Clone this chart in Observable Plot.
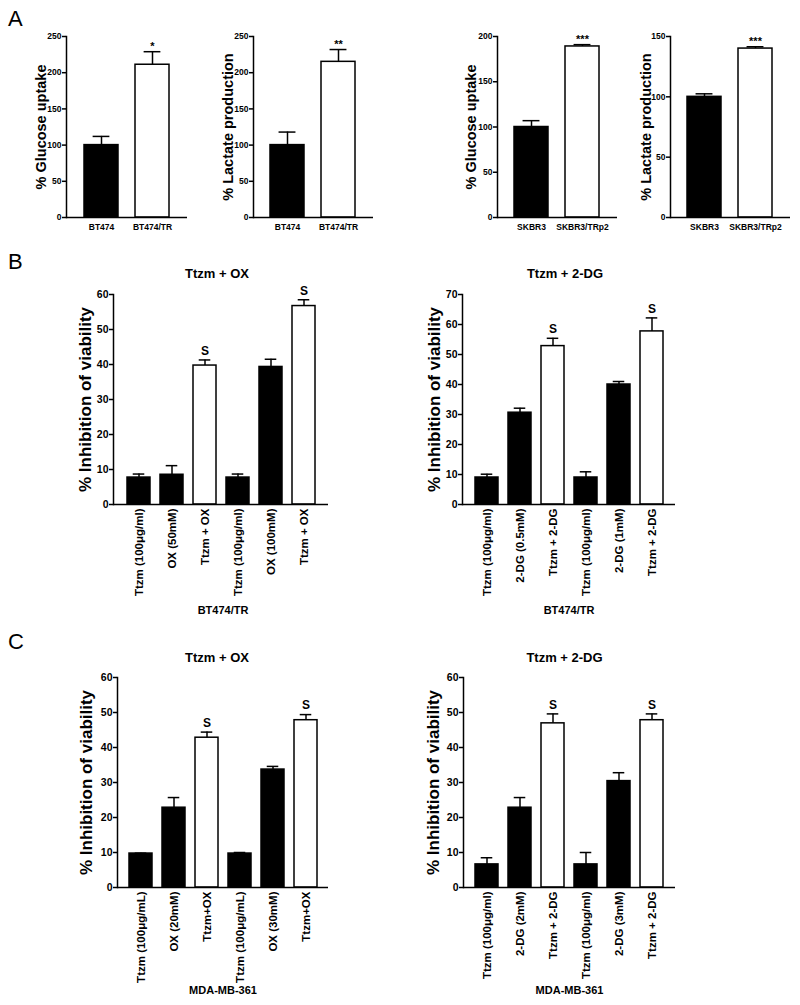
<!DOCTYPE html>
<html><head><meta charset="utf-8">
<script src="https://cdn.jsdelivr.net/npm/d3@7"></script>
<script src="https://cdn.jsdelivr.net/npm/@observablehq/plot@0.6"></script>
<style>
body{margin:0;background:#fff;}
#fig{position:relative;width:800px;height:1005px;font-family:"Liberation Sans",Arial,sans-serif;color:#000;overflow:hidden;}
.panel{position:absolute;}
.letter{position:absolute;font-size:22px;line-height:1;font-family:"Liberation Sans",Arial,sans-serif;}
</style></head><body><div id="fig"></div>
<script>
// ---------- DATA ----------
// Panel A
const catsBT474 = ["BT474", "BT474/TR"];
const groupsA = ["parental", "resistant"];
const glucoseBT474 = [100, 211];
const glucoseBT474Err = [12, 18];
const glucoseBT474Sig = ["", "*"];
const lactateBT474 = [100, 215];
const lactateBT474Err = [18, 17];
const lactateBT474Sig = ["", "**"];
const catsSKBR3 = ["SKBR3", "SKBR3/TRp2"];
const glucoseSKBR3 = [100, 189];
const glucoseSKBR3Err = [7, 2];
const glucoseSKBR3Sig = ["", "***"];
const lactateSKBR3 = [100, 140];
const lactateSKBR3Err = [2.5, 1.5];
const lactateSKBR3Sig = ["", "***"];
const ticksA250 = [0, 50, 100, 150, 200, 250];
const ticksA200 = [0, 50, 100, 150, 200];
const ticksA150 = [0, 50, 100, 150];

// Panels B and C
const groupsBC = ["single", "single", "combination", "single", "single", "combination"];
const sigBC = ["", "", "S", "", "", "S"];
const catsB_OX = ["Ttzm (100μg/ml)", "OX (50mM)", "Ttzm + OX", "Ttzm (100μg/ml)", "OX (100mM)", "Ttzm + OX"];
const inhibB_OX = [7.7, 8.5, 39.7, 7.7, 39.3, 56.7];
const inhibB_OXErr = [1.0, 2.6, 1.6, 1.0, 2.2, 1.8];
const catsB_2DG = ["Ttzm (100μg/ml)", "2-DG (0.5mM)", "Ttzm + 2-DG", "Ttzm (100μg/ml)", "2-DG (1mM)", "Ttzm + 2-DG"];
const inhibB_2DG = [9.0, 30.6, 52.8, 9.0, 40.0, 57.7];
const inhibB_2DGErr = [1.1, 1.5, 2.6, 1.9, 1.0, 4.5];
const catsC_OX = ["Ttzm (100μg/mL)", "OX (20mM)", "Ttzm+OX", "Ttzm (100μg/mL)", "OX (30mM)", "Ttzm+OX"];
const inhibC_OX = [9.7, 22.8, 42.8, 9.7, 33.7, 47.8];
const inhibC_OXErr = [0.1, 2.9, 1.6, 0.3, 0.9, 1.6];
const catsC_2DG = ["Ttzm (100μg/ml)", "2-DG (2mM)", "Ttzm + 2-DG", "Ttzm (100μg/ml)", "2-DG (3mM)", "Ttzm + 2-DG"];
const inhibC_2DG = [6.6, 22.8, 46.9, 6.6, 30.4, 47.8];
const inhibC_2DGErr = [1.9, 2.9, 2.7, 3.4, 2.4, 1.8];
const ticksB70 = [0, 10, 20, 30, 40, 50, 60, 70];
const ticks60 = [0, 10, 20, 30, 40, 50, 60];

// ---------- DRAWING ----------
const FONT = "Liberation Sans, Arial, sans-serif";
const fig = document.getElementById("fig");

function barChart(d, L) {
  const n = d.values.length;
  const data = d.values.map((v, i) => ({i, v, top: v + d.errors[i], g: d.groups[i], s: d.sig[i]}));
  const fw = L.width - L.ml - L.mr;
  const step = fw / (n - L.pi + 2 * L.po);
  const bw = step * (1 - L.pi);
  const marks = [
    Plot.barY(data, {x: "i", y: "v", fill: "g", stroke: "black", strokeWidth: 1.5}),
    Plot.ruleX(data, {x: "i", y1: "v", y2: "top", stroke: "black", strokeWidth: 1.5}),
    Plot.tickY(data, {x: "i", y: "top", stroke: "black", strokeWidth: 1.5, inset: bw / 4}),
    Plot.text(data, {x: "i", y: "top", text: "s", dy: L.sigDy, fontSize: L.sigSize, fontWeight: "bold", fill: "black"}),
    Plot.ruleY([0], {stroke: "black", strokeWidth: 1.5}),
    Plot.frame({anchor: "left", stroke: "black", strokeWidth: 1.5}),
    Plot.axisY({ticks: d.yTicks, tickSize: 4, tickPadding: 1, label: null, fontSize: L.yTickSize, fontWeight: "bold", strokeWidth: 1.5}),
    Plot.axisX({tickSize: 0, tickPadding: L.xPad, tickRotate: L.rotate, tickFormat: (i) => d.labels[i], label: null, fontSize: L.xTickSize, fontWeight: "bold"}),
    Plot.text([d.yLabel], {frameAnchor: "left", textAnchor: "middle", rotate: -90, dx: -L.ylabOff, fontSize: L.yLabSize, fontWeight: "bold", fill: "black"})
  ];
  if (d.title) marks.push(Plot.text([d.title], {frameAnchor: "top", dy: L.titleDy, dx: L.titleDx, fontSize: 13, fontWeight: "bold", fill: "black"}));
  if (d.caption) marks.push(Plot.text([d.caption], {frameAnchor: "bottom", dy: L.capDy, dx: L.capDx, fontSize: 11, fontWeight: "bold", fill: "black"}));
  const svg = Plot.plot({
    width: L.width, height: L.height,
    marginLeft: L.ml, marginRight: L.mr, marginTop: L.mt, marginBottom: L.mb,
    style: {fontFamily: FONT, background: "transparent", color: "black", overflow: "visible"},
    x: {type: "band", domain: d3.range(n), paddingInner: L.pi, paddingOuter: L.po, axis: null},
    y: {domain: [0, d.yMax], axis: null},
    color: {type: "ordinal", domain: ["parental", "resistant", "single", "combination"], range: ["black", "white", "black", "white"]},
    marks
  });
  const div = document.createElement("div");
  div.className = "panel";
  div.style.left = L.left + "px";
  div.style.top = L.top + "px";
  div.appendChild(svg);
  fig.appendChild(div);
}

const A = {top: 0, height: 245, mt: 36, mb: 28, pi: 0.33, po: 0.34, yTickSize: 8.5, xTickSize: 8.5, xPad: 6, rotate: 0, yLabSize: 14.5, ylabOff: 25, sigSize: 11, sigDy: -5};
barChart({values: glucoseBT474, errors: glucoseBT474Err, labels: catsBT474, groups: groupsA, sig: glucoseBT474Sig, yMax: 250, yTicks: ticksA250, yLabel: "% Glucose uptake"},
  {...A, left: 0, width: 200, ml: 66, mr: 13});
barChart({values: lactateBT474, errors: lactateBT474Err, labels: catsBT474, groups: groupsA, sig: lactateBT474Sig, yMax: 250, yTicks: ticksA250, yLabel: "% Lactate production"},
  {...A, left: 200, width: 185, ml: 53, mr: 12});
barChart({values: glucoseSKBR3, errors: glucoseSKBR3Err, labels: catsSKBR3, groups: groupsA, sig: glucoseSKBR3Sig, yMax: 200, yTicks: ticksA200, yLabel: "% Glucose uptake"},
  {...A, left: 400, width: 225, ml: 97, mr: 8, ylabOff: 26.5});
barChart({values: lactateSKBR3, errors: lactateSKBR3Err, labels: catsSKBR3, groups: groupsA, sig: lactateSKBR3Sig, yMax: 150, yTicks: ticksA150, yLabel: "% Lactate production"},
  {...A, left: 625, width: 175, ml: 45, mr: 10, ylabOff: 24});

const B = {top: 245, height: 375, mt: 49, mb: 116, pi: 0.31, yTickSize: 10.5, xTickSize: 11.5, xPad: 4, rotate: -90, yLabSize: 17, sigSize: 12, sigDy: -9, titleDy: -26, capDy: 109};
barChart({values: inhibB_OX, errors: inhibB_OXErr, labels: catsB_OX, groups: groupsBC, sig: sigBC, yMax: 60, yTicks: ticks60, yLabel: "% Inhibition of viability", title: "Ttzm + OX", caption: "BT474/TR"},
  {...B, left: 0, width: 400, ml: 113, mr: 72, po: 0.4, ylabOff: 28, titleDx: -4, capDx: 2});
barChart({values: inhibB_2DG, errors: inhibB_2DGErr, labels: catsB_2DG, groups: groupsBC, sig: sigBC, yMax: 70, yTicks: ticksB70, yLabel: "% Inhibition of viability", title: "Ttzm + 2-DG", caption: "BT474/TR"},
  {...B, left: 400, width: 400, ml: 62, mr: 125, po: 0.36, ylabOff: 27.5, titleDx: -4, capDx: 0});

const C = {top: 620, height: 385, mt: 57, mb: 118, pi: 0.31, yTickSize: 10.5, xTickSize: 11.5, xPad: 4, rotate: -90, yLabSize: 17, sigSize: 12, sigDy: -9, titleDy: -25, capDy: 106};
barChart({values: inhibC_OX, errors: inhibC_OXErr, labels: catsC_OX, groups: groupsBC, sig: sigBC, yMax: 60, yTicks: ticks60, yLabel: "% Inhibition of viability", title: "Ttzm + OX", caption: "MDA-MB-361"},
  {...C, left: 0, width: 400, ml: 117, mr: 72, po: 0.33, ylabOff: 31, titleDx: -6, capDx: 0});
barChart({values: inhibC_2DG, errors: inhibC_2DGErr, labels: catsC_2DG, groups: groupsBC, sig: sigBC, yMax: 60, yTicks: ticks60, yLabel: "% Inhibition of viability", title: "Ttzm + 2-DG", caption: "MDA-MB-361"},
  {...C, left: 400, width: 400, ml: 63, mr: 125, po: 0.35, ylabOff: 29.5, titleDx: -5, capDx: 0});

// panel letters
[["A", 8, 8], ["B", 8, 251], ["C", 8, 631]].forEach(([t, x, y]) => {
  const el = document.createElement("div");
  el.className = "letter";
  el.textContent = t;
  el.style.left = x + "px";
  el.style.top = y + "px";
  fig.appendChild(el);
});
</script>
</body></html>
